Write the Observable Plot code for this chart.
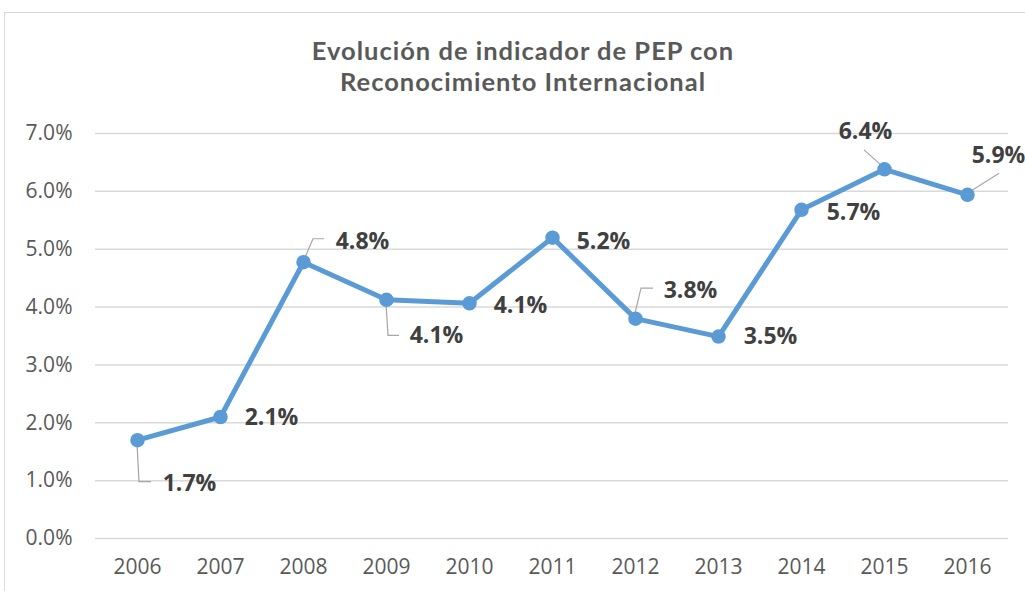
<!DOCTYPE html>
<html>
<head>
<meta charset="utf-8">
<script src="https://cdn.jsdelivr.net/npm/d3@7"></script>
<script src="https://cdn.jsdelivr.net/npm/@observablehq/plot@0.6"></script>
<style>
  html, body { margin: 0; padding: 0; background: #fff; }
  #wrap { position: relative; width: 1025px; height: 591px; overflow: hidden; background: #fff; }
  #frame { position: absolute; left: 4px; top: 12px; width: 1100px; height: 700px; border: 1.5px solid #d9d9d9; box-sizing: border-box; }
  #title { position: absolute; left: 0; top: 35px; width: 1046px; text-align: center; font-family: Lato, "Open Sans", sans-serif; font-weight: 700; font-size: 25.5px; line-height: 31px; letter-spacing: 1px; color: #595959; }
  #chart { position: absolute; left: 0; top: 0; }
</style>
</head>
<body>
<div id="wrap">
  <div id="frame"></div>
  <div id="chart"></div>
  <div id="title">Evolución de indicador de PEP con<br>Reconocimiento Internacional</div>
</div>
<script>
// ---- data ----
const years = ["2006","2007","2008","2009","2010","2011","2012","2013","2014","2015","2016"];
const values = [0.0170, 0.0210, 0.04775, 0.04125, 0.04065, 0.0520, 0.0380, 0.0349, 0.0568, 0.0638, 0.0594];
const yTicks = [0, 0.01, 0.02, 0.03, 0.04, 0.05, 0.06, 0.07];

// ---- styling: label offsets (px) and leader-line shapes (px, relative to point) ----
const labelOffsets = [[52,43],[51,1],[59,-21],[50,36],[51,2],[51,4],[55,-28],[52,0],[52,3],[-19,-38],[31,-39]];
const leaderShapes = [
  [[0,4],[2,42],[14,42]],
  null,
  [[1,-2],[10,-23],[21,-23]],
  [[0,4],[2,36],[13,36]],
  null,
  null,
  [[0,-5],[6,-30],[18,-30]],
  null,
  null,
  [[-2,-3],[-20,-19]],
  [[2,-2],[32,-21]]
];

const data = years.map((y, i) => ({year: y, value: values[i]}));
const fmt = d3.format(".1%");

function leaders(index, scales) {
  const g = d3.create("svg:g");
  data.forEach((d, i) => {
    const s = leaderShapes[i];
    if (!s) return;
    const px = scales.x(d.year), py = scales.y(d.value);
    g.append("polyline")
      .attr("points", s.map(([a, b]) => `${px + a},${py + b}`).join(" "))
      .attr("fill", "none")
      .attr("stroke", "#a6a6a6")
      .attr("stroke-width", 1.2);
  });
  return g.node();
}

const labelMarks = data.map((d, i) => Plot.text([d], {
  x: "year", y: "value", text: dd => fmt(dd.value),
  dx: labelOffsets[i][0], dy: labelOffsets[i][1],
  fontSize: 23, fontWeight: 700, fill: "#404040",
  fontFamily: "Open Sans, sans-serif", textAnchor: "middle"
}));

const chart = Plot.plot({
  width: 1025,
  height: 591,
  marginLeft: 95,
  marginRight: 17,
  marginTop: 133,
  marginBottom: 53,
  style: { fontFamily: "Open Sans, sans-serif", background: "transparent", overflow: "visible" },
  x: { type: "point", domain: years, padding: 0.5, label: null },
  y: { domain: [0, 0.07], label: null },
  marks: [
    Plot.gridY(yTicks, { stroke: "#d9d9d9", strokeOpacity: 1, strokeWidth: 1.5 }),
    Plot.axisY(yTicks, { tickSize: 0, tickPadding: 23, tickFormat: fmt, fontSize: 21, fill: "#595959", label: null }),
    Plot.axisX({ tickSize: 0, tickPadding: 21, fontSize: 21, fill: "#595959", label: null }),
    leaders,
    Plot.line(data, { x: "year", y: "value", stroke: "#5b9bd5", strokeWidth: 5, strokeLinejoin: "round" }),
    Plot.dot(data, { x: "year", y: "value", r: 6.5, fill: "#5b9bd5", stroke: "#5b9bd5" }),
    ...labelMarks
  ]
});
document.getElementById("chart").appendChild(chart);
</script>
</body>
</html>
